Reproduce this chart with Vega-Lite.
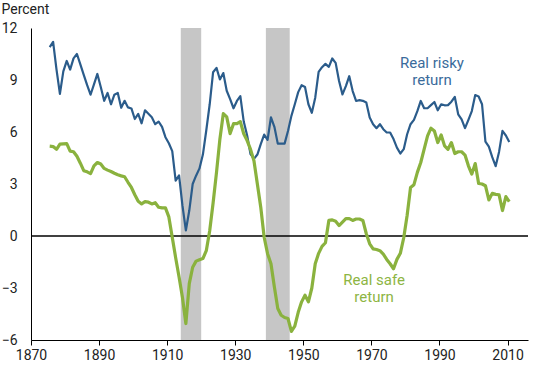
{
  "$schema": "https://vega.github.io/schema/vega-lite/v6.json",
  "width": 497,
  "height": 312,
  "autosize": {"type": "none"},
  "padding": {"left": 31, "top": 28, "right": 22, "bottom": 30},
  "background": "white",
  "config": {
    "view": {"stroke": null},
    "font": "Roboto",
    "axis": {"grid": false, "domainColor": "#000000", "tickColor": "#000000", "labelFont": "Roboto", "labelFontSize": 14, "labelColor": "#222222", "titleFont": "Roboto"}
  },
  "datasets": {
    "risky": [
      {"date": "1875-07-01", "value": 10.9}, {"date": "1876-07-01", "value": 11.2}, {"date": "1877-07-01", "value": 9.6}, {"date": "1878-07-01", "value": 8.2}, {"date": "1879-07-01", "value": 9.5},
      {"date": "1880-07-01", "value": 10.1}, {"date": "1881-07-01", "value": 9.6}, {"date": "1882-07-01", "value": 10.25}, {"date": "1883-07-01", "value": 10.5}, {"date": "1884-07-01", "value": 9.9},
      {"date": "1885-07-01", "value": 9.3}, {"date": "1886-07-01", "value": 8.7}, {"date": "1887-07-01", "value": 8.15}, {"date": "1888-07-01", "value": 8.75}, {"date": "1889-07-01", "value": 9.35},
      {"date": "1890-07-01", "value": 8.6}, {"date": "1891-07-01", "value": 7.8}, {"date": "1892-07-01", "value": 8.25}, {"date": "1893-07-01", "value": 7.6}, {"date": "1894-07-01", "value": 8.15},
      {"date": "1895-07-01", "value": 8.25}, {"date": "1896-07-01", "value": 7.4}, {"date": "1897-07-01", "value": 7.8}, {"date": "1898-07-01", "value": 7.42}, {"date": "1899-07-01", "value": 7.36},
      {"date": "1900-07-01", "value": 6.75}, {"date": "1901-07-01", "value": 7.05}, {"date": "1902-07-01", "value": 6.5}, {"date": "1903-07-01", "value": 7.25}, {"date": "1904-07-01", "value": 7.05},
      {"date": "1905-07-01", "value": 6.85}, {"date": "1906-07-01", "value": 6.45}, {"date": "1907-07-01", "value": 6.6}, {"date": "1908-07-01", "value": 6.3}, {"date": "1909-07-01", "value": 5.7},
      {"date": "1910-07-01", "value": 5.35}, {"date": "1911-07-01", "value": 4.9}, {"date": "1912-07-01", "value": 3.2}, {"date": "1913-07-01", "value": 3.5}, {"date": "1914-07-01", "value": 1.75},
      {"date": "1915-07-01", "value": 0.32}, {"date": "1916-07-01", "value": 1.47}, {"date": "1917-07-01", "value": 3.0}, {"date": "1918-07-01", "value": 3.48}, {"date": "1919-07-01", "value": 3.9},
      {"date": "1920-07-01", "value": 4.7}, {"date": "1921-07-01", "value": 6.1}, {"date": "1922-07-01", "value": 7.6}, {"date": "1923-07-01", "value": 9.45}, {"date": "1924-07-01", "value": 9.7},
      {"date": "1925-07-01", "value": 9.03}, {"date": "1926-07-01", "value": 9.4}, {"date": "1927-07-01", "value": 8.38}, {"date": "1928-07-01", "value": 7.9}, {"date": "1929-07-01", "value": 7.37},
      {"date": "1930-07-01", "value": 7.79}, {"date": "1931-07-01", "value": 8.07}, {"date": "1932-07-01", "value": 6.6}, {"date": "1933-07-01", "value": 5.8}, {"date": "1934-07-01", "value": 4.72},
      {"date": "1935-07-01", "value": 4.45}, {"date": "1936-07-01", "value": 4.7}, {"date": "1937-07-01", "value": 5.3}, {"date": "1938-07-01", "value": 5.85}, {"date": "1939-07-01", "value": 5.55},
      {"date": "1940-07-01", "value": 6.85}, {"date": "1941-07-01", "value": 6.3}, {"date": "1942-07-01", "value": 5.33}, {"date": "1943-07-01", "value": 5.33}, {"date": "1944-07-01", "value": 5.33},
      {"date": "1945-07-01", "value": 6.06}, {"date": "1946-07-01", "value": 6.93}, {"date": "1947-07-01", "value": 7.6}, {"date": "1948-07-01", "value": 8.3}, {"date": "1949-07-01", "value": 8.7},
      {"date": "1950-07-01", "value": 8.6}, {"date": "1951-07-01", "value": 7.6}, {"date": "1952-07-01", "value": 7.11}, {"date": "1953-07-01", "value": 7.98}, {"date": "1954-07-01", "value": 9.47},
      {"date": "1955-07-01", "value": 9.74}, {"date": "1956-07-01", "value": 9.93}, {"date": "1957-07-01", "value": 9.76}, {"date": "1958-07-01", "value": 10.24}, {"date": "1959-07-01", "value": 9.99},
      {"date": "1960-07-01", "value": 8.94}, {"date": "1961-07-01", "value": 8.17}, {"date": "1962-07-01", "value": 8.65}, {"date": "1963-07-01", "value": 9.22}, {"date": "1964-07-01", "value": 8.36},
      {"date": "1965-07-01", "value": 7.79}, {"date": "1966-07-01", "value": 7.84}, {"date": "1967-07-01", "value": 7.8}, {"date": "1968-07-01", "value": 7.7}, {"date": "1969-07-01", "value": 6.83},
      {"date": "1970-07-01", "value": 6.45}, {"date": "1971-07-01", "value": 6.22}, {"date": "1972-07-01", "value": 6.45}, {"date": "1973-07-01", "value": 6.16}, {"date": "1974-07-01", "value": 5.97},
      {"date": "1975-07-01", "value": 5.97}, {"date": "1976-07-01", "value": 5.59}, {"date": "1977-07-01", "value": 5.1}, {"date": "1978-07-01", "value": 4.76}, {"date": "1979-07-01", "value": 5.01},
      {"date": "1980-07-01", "value": 5.87}, {"date": "1981-07-01", "value": 6.45}, {"date": "1982-07-01", "value": 6.7}, {"date": "1983-07-01", "value": 7.2}, {"date": "1984-07-01", "value": 7.79},
      {"date": "1985-07-01", "value": 7.37}, {"date": "1986-07-01", "value": 7.37}, {"date": "1987-07-01", "value": 7.55}, {"date": "1988-07-01", "value": 7.73}, {"date": "1989-07-01", "value": 7.25},
      {"date": "1990-07-01", "value": 7.6}, {"date": "1991-07-01", "value": 7.54}, {"date": "1992-07-01", "value": 7.55}, {"date": "1993-07-01", "value": 7.75}, {"date": "1994-07-01", "value": 8.02},
      {"date": "1995-07-01", "value": 7.02}, {"date": "1996-07-01", "value": 6.73}, {"date": "1997-07-01", "value": 6.22}, {"date": "1998-07-01", "value": 6.7}, {"date": "1999-07-01", "value": 7.21},
      {"date": "2000-07-01", "value": 8.13}, {"date": "2001-07-01", "value": 8.05}, {"date": "2002-07-01", "value": 7.6}, {"date": "2003-07-01", "value": 5.45}, {"date": "2004-07-01", "value": 5.16},
      {"date": "2005-07-01", "value": 4.55}, {"date": "2006-07-01", "value": 4.03}, {"date": "2007-07-01", "value": 4.85}, {"date": "2008-07-01", "value": 6.06}, {"date": "2009-07-01", "value": 5.8},
      {"date": "2010-07-01", "value": 5.42}
    ],
    "safe": [
      {"date": "1875-07-01", "value": 5.18}, {"date": "1876-07-01", "value": 5.16}, {"date": "1877-07-01", "value": 5.0}, {"date": "1878-07-01", "value": 5.3}, {"date": "1879-07-01", "value": 5.32},
      {"date": "1880-07-01", "value": 5.33}, {"date": "1881-07-01", "value": 4.9}, {"date": "1882-07-01", "value": 4.86}, {"date": "1883-07-01", "value": 4.6}, {"date": "1884-07-01", "value": 4.2},
      {"date": "1885-07-01", "value": 3.77}, {"date": "1886-07-01", "value": 3.7}, {"date": "1887-07-01", "value": 3.6}, {"date": "1888-07-01", "value": 4.05}, {"date": "1889-07-01", "value": 4.24},
      {"date": "1890-07-01", "value": 4.15}, {"date": "1891-07-01", "value": 3.9}, {"date": "1892-07-01", "value": 3.8}, {"date": "1893-07-01", "value": 3.72}, {"date": "1894-07-01", "value": 3.62},
      {"date": "1895-07-01", "value": 3.53}, {"date": "1896-07-01", "value": 3.47}, {"date": "1897-07-01", "value": 3.42}, {"date": "1898-07-01", "value": 3.1}, {"date": "1899-07-01", "value": 2.8},
      {"date": "1900-07-01", "value": 2.38}, {"date": "1901-07-01", "value": 2.0}, {"date": "1902-07-01", "value": 1.85}, {"date": "1903-07-01", "value": 1.98}, {"date": "1904-07-01", "value": 1.95},
      {"date": "1905-07-01", "value": 1.85}, {"date": "1906-07-01", "value": 1.92}, {"date": "1907-07-01", "value": 1.66}, {"date": "1908-07-01", "value": 1.62}, {"date": "1909-07-01", "value": 1.62},
      {"date": "1910-07-01", "value": 1.1}, {"date": "1911-07-01", "value": -0.07}, {"date": "1912-07-01", "value": -1.25}, {"date": "1913-07-01", "value": -2.37}, {"date": "1914-07-01", "value": -3.55},
      {"date": "1915-07-01", "value": -5.05}, {"date": "1916-07-01", "value": -2.75}, {"date": "1917-07-01", "value": -1.8}, {"date": "1918-07-01", "value": -1.45}, {"date": "1919-07-01", "value": -1.37},
      {"date": "1920-07-01", "value": -1.3}, {"date": "1921-07-01", "value": -0.85}, {"date": "1922-07-01", "value": 0.3}, {"date": "1923-07-01", "value": 1.9}, {"date": "1924-07-01", "value": 3.67},
      {"date": "1925-07-01", "value": 5.6}, {"date": "1926-07-01", "value": 7.06}, {"date": "1927-07-01", "value": 6.87}, {"date": "1928-07-01", "value": 5.91}, {"date": "1929-07-01", "value": 6.48},
      {"date": "1930-07-01", "value": 6.48}, {"date": "1931-07-01", "value": 6.6}, {"date": "1932-07-01", "value": 5.9}, {"date": "1933-07-01", "value": 5.5}, {"date": "1934-07-01", "value": 5.0},
      {"date": "1935-07-01", "value": 4.34}, {"date": "1936-07-01", "value": 3.0}, {"date": "1937-07-01", "value": 1.66}, {"date": "1938-07-01", "value": -0.07}, {"date": "1939-07-01", "value": -1.02},
      {"date": "1940-07-01", "value": -1.6}, {"date": "1941-07-01", "value": -2.94}, {"date": "1942-07-01", "value": -4.18}, {"date": "1943-07-01", "value": -4.57}, {"date": "1944-07-01", "value": -4.7},
      {"date": "1945-07-01", "value": -4.76}, {"date": "1946-07-01", "value": -5.5}, {"date": "1947-07-01", "value": -5.2}, {"date": "1948-07-01", "value": -4.4}, {"date": "1949-07-01", "value": -3.8},
      {"date": "1950-07-01", "value": -3.42}, {"date": "1951-07-01", "value": -3.8}, {"date": "1952-07-01", "value": -3.0}, {"date": "1953-07-01", "value": -1.6}, {"date": "1954-07-01", "value": -1.0},
      {"date": "1955-07-01", "value": -0.6}, {"date": "1956-07-01", "value": -0.39}, {"date": "1957-07-01", "value": 0.9}, {"date": "1958-07-01", "value": 0.93}, {"date": "1959-07-01", "value": 0.85},
      {"date": "1960-07-01", "value": 0.6}, {"date": "1961-07-01", "value": 0.8}, {"date": "1962-07-01", "value": 1.0}, {"date": "1963-07-01", "value": 1.0}, {"date": "1964-07-01", "value": 0.9},
      {"date": "1965-07-01", "value": 0.98}, {"date": "1966-07-01", "value": 0.98}, {"date": "1967-07-01", "value": 0.9}, {"date": "1968-07-01", "value": 0.13}, {"date": "1969-07-01", "value": -0.45},
      {"date": "1970-07-01", "value": -0.74}, {"date": "1971-07-01", "value": -0.78}, {"date": "1972-07-01", "value": -0.85}, {"date": "1973-07-01", "value": -1.05}, {"date": "1974-07-01", "value": -1.35},
      {"date": "1975-07-01", "value": -1.6}, {"date": "1976-07-01", "value": -1.89}, {"date": "1977-07-01", "value": -1.35}, {"date": "1978-07-01", "value": -1.0}, {"date": "1979-07-01", "value": -0.1},
      {"date": "1980-07-01", "value": 1.2}, {"date": "1981-07-01", "value": 2.8}, {"date": "1982-07-01", "value": 2.96}, {"date": "1983-07-01", "value": 3.67}, {"date": "1984-07-01", "value": 4.24},
      {"date": "1985-07-01", "value": 5.01}, {"date": "1986-07-01", "value": 5.78}, {"date": "1987-07-01", "value": 6.22}, {"date": "1988-07-01", "value": 6.06}, {"date": "1989-07-01", "value": 5.39},
      {"date": "1990-07-01", "value": 5.83}, {"date": "1991-07-01", "value": 5.2}, {"date": "1992-07-01", "value": 5.0}, {"date": "1993-07-01", "value": 5.39}, {"date": "1994-07-01", "value": 4.76},
      {"date": "1995-07-01", "value": 4.86}, {"date": "1996-07-01", "value": 4.86}, {"date": "1997-07-01", "value": 4.67}, {"date": "1998-07-01", "value": 4.05}, {"date": "1999-07-01", "value": 3.57},
      {"date": "2000-07-01", "value": 4.18}, {"date": "2001-07-01", "value": 3.03}, {"date": "2002-07-01", "value": 3.0}, {"date": "2003-07-01", "value": 2.9}, {"date": "2004-07-01", "value": 2.08},
      {"date": "2005-07-01", "value": 2.46}, {"date": "2006-07-01", "value": 2.4}, {"date": "2007-07-01", "value": 2.38}, {"date": "2008-07-01", "value": 1.47}, {"date": "2009-07-01", "value": 2.27},
      {"date": "2010-07-01", "value": 1.98}
    ],
    "labels": [
      {"date": "1987-10-15", "value": 9.71, "label": "Real risky", "series": "risky"},
      {"date": "1987-10-15", "value": 8.71, "label": "return", "series": "risky"},
      {"date": "1970-10-15", "value": -2.83, "label": "Real safe", "series": "safe"},
      {"date": "1970-10-15", "value": -3.83, "label": "return", "series": "safe"}
    ]
  },
  "encoding": {
    "x": {
      "field": "date", "type": "temporal",
      "scale": {"domain": [{"year": 1870}, {"year": 2016}]},
      "axis": {
        "title": null, "format": "%Y",
        "values": [{"year": 1870}, {"year": 1890}, {"year": 1910}, {"year": 1930}, {"year": 1950}, {"year": 1970}, {"year": 1990}, {"year": 2010}],
        "tickSize": 5, "labelPadding": 3, "labelFlush": false, "labelOverlap": false
      }
    },
    "y": {
      "field": "value", "type": "quantitative",
      "scale": {"domain": [-6, 12], "nice": false, "zero": false},
      "axis": {
        "values": [-6, -3, 0, 3, 6, 9, 12], "ticks": false, "labelPadding": 14,
        "title": "Percent", "titleAngle": 0, "titleAlign": "left", "titleBaseline": "alphabetic",
        "titleX": -30, "titleY": -15, "titleFontSize": 14, "titleFontWeight": "normal", "titleColor": "#222222",
        "labelFlush": false
      }
    }
  },
  "layer": [
    {
      "data": {
        "values": [
          {"date": "1914-01-01", "end": "1920-01-01", "value": 12, "low": -6},
          {"date": "1939-01-01", "end": "1946-01-01", "value": 12, "low": -6}
        ],
        "format": {"parse": {"date": "date", "end": "date"}}
      },
      "mark": {"type": "rect", "color": "#c6c6c6"},
      "encoding": {
        "x2": {"field": "end"},
        "y2": {"field": "low"}
      }
    },
    {
      "data": {"values": [{"value": 0}]},
      "mark": {"type": "rule", "color": "#000000", "strokeWidth": 1.4},
      "encoding": {"x": null, "y": {"field": "value", "type": "quantitative"}}
    },
    {
      "data": {"name": "risky"},
      "mark": {"type": "line", "color": "#2b5c8b", "strokeWidth": 2.2, "strokeJoin": "round"}
    },
    {
      "data": {"name": "safe"},
      "mark": {"type": "line", "color": "#8ab23e", "strokeWidth": 3.2, "strokeJoin": "round"}
    },
    {
      "data": {"name": "labels"},
      "mark": {"type": "text", "fontSize": 15, "font": "Roboto", "align": "center", "baseline": "alphabetic"},
      "encoding": {
        "text": {"field": "label"},
        "color": {"field": "series", "type": "nominal", "scale": {"domain": ["risky", "safe"], "range": ["#3a6b9b", "#8db543"]}, "legend": null}
      }
    }
  ]
}
